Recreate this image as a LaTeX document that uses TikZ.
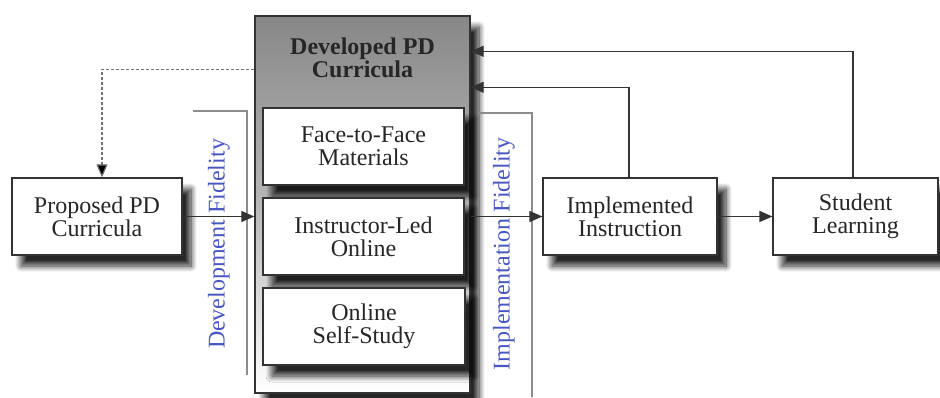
\documentclass[tikz,border=0pt]{standalone}
\usepackage{fontspec}
\setmainfont{Liberation Serif}
\usetikzlibrary{arrows.meta,shadows.blur}
\definecolor{fidblue}{RGB}{72,86,192}
\begin{document}
\begin{tikzpicture}[x=1pt,y=-1pt,
  shd/.style={blur shadow={shadow xshift=9pt,shadow yshift=-11pt,shadow blur radius=6pt,shadow blur steps=12,shadow opacity=85}},
  box/.style={draw=black!80, line width=1.2pt, fill=white, minimum width=#1, minimum height=77pt,
    inner sep=0pt, align=center, font=\fontsize{24}{23}\selectfont, text=black!85, shd},
  conn/.style={draw=black!80, line width=1.3pt, -{Triangle[length=13pt,width=11pt]}},
  dashline/.style={draw=black!55, line width=1.1pt, densely dashed, -{Triangle[length=13pt,width=11pt,fill=black]}},
  fidline/.style={draw=black!45, line width=1.2pt},
  fid/.style={text=fidblue, font=\fontsize{24}{23}\selectfont, inner sep=0pt}
]
\useasboundingbox (0,0) rectangle (940,397);
% big box
\node[draw=black!80, line width=1.4pt, top color=black!47, bottom color=white, middle color=black!28, minimum width=215pt, minimum height=377pt, inner sep=0pt, shd] (dev) at (362.5,204.5) {};
\node[font=\bfseries\fontsize{24}{23}\selectfont, text=black!85, align=center] (devtitle) at (362.5,58) {Developed PD\\Curricula};
\node[box=201pt] (f2f) at (363.5,146.5) {Face-to-Face\\Materials};
\node[box=201pt] (ilo) at (363.5,236.5) {Instructor-Led\\Online};
\node[box=202pt] (oss) at (364,326.5) {Online\\Self-Study};
% other boxes
\node[box=170pt] (prop) at (97,216.5) {Proposed PD\\Curricula};
\node[box=174pt] (impl) at (630,216.5) {Implemented\\Instruction};
\node[box=165pt] (stud) at (855.5,216.5) {Student\\Learning};
% fidelity markers
\draw[fidline] (193,111) -- (247,111) -- (247,375);
\draw[fidline] (478,113) -- (532,113) -- (532,397);
\node[fid, rotate=90] (devfid) at (219,244) {Development Fidelity};
\node[fid, rotate=90] (impfid) at (504,254) {Implementation Fidelity};
% connectors
\draw[conn] (prop.east) -- (prop.east -| dev.west);
\draw[conn] (dev.east |- impl.west) -- (impl.west);
\draw[conn] (impl.east) -- (stud.west);
\draw[conn] ([xshift=-2.5pt]stud.north) |- ([yshift=-36pt]dev.north east);
\draw[conn] ([xshift=-1pt]impl.north) |- ([yshift=-72pt]dev.north east);
\draw[dashline] ([yshift=-54pt]dev.north west) -| ([xshift=5pt]prop.north);
\end{tikzpicture}
\end{document}
